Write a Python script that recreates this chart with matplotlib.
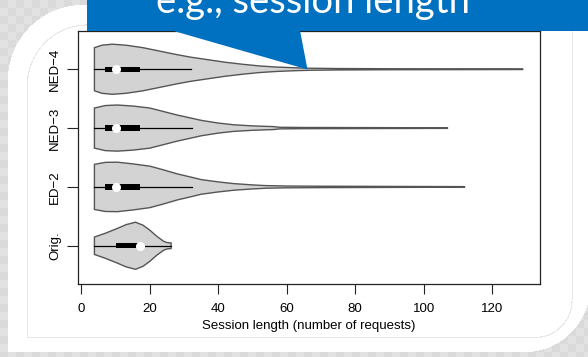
import numpy as np
import matplotlib
matplotlib.use("Agg")
import matplotlib.pyplot as plt
from matplotlib.patches import Rectangle, Polygon

# ---------------- data ----------------
groups = ["Orig.", "ED\u22122", "NED\u22123", "NED\u22124"]
positions = [1, 2, 3, 4]

# violin outline knots: session length value and half-width (pixels, group spacing = 58.7 px)
orig_x = [3.8, 7, 10.5, 13, 15.8, 18, 20, 22, 24, 25, 26.2]
orig_w = [8.7, 12.5, 17.3, 21, 23.5, 20.5, 15.5, 9.5, 4.5, 3.2, 2.8]

ed2_x = [3.8, 7, 10.5, 15, 20, 24, 28, 32, 35, 40, 44.5, 50, 54, 60, 70, 90, 112]
ed2_w = [22.5, 24.5, 24.7, 23, 20.7, 17, 13, 9.8, 7.3, 5, 3.3, 2, 1.3, 0.9, 0.7, 0.5, 0.3]

ned3_x = [3.8, 7, 10.5, 15, 20, 24, 28, 32, 35, 40, 44.5, 50, 54, 56, 58, 65, 80, 107]
ned3_w = [20, 22.5, 23, 22, 20, 16.5, 13, 10, 7.7, 5, 3.3, 2.2, 1.7, 1.5, 0.8, 0.6, 0.5, 0.3]

ned4_x = [3.8, 6, 9, 13, 18, 23, 28, 32, 37, 42, 47, 52, 57, 62, 67, 75, 90, 110, 129]
ned4_w = [21.5, 24, 25, 24, 21.5, 18, 14.5, 12, 9.5, 7, 5, 3.3, 2.2, 1.5, 1.0, 0.7, 0.5, 0.4, 0.3]

violin_x = [orig_x, ed2_x, ned3_x, ned4_x]
violin_w = [orig_w, ed2_w, ned3_w, ned4_w]

q1 = [10, 7, 7, 7]
median = [17, 10, 10, 10]
q3 = [17, 17.2, 17.2, 17.2]
whisk_lo = [3.8, 3.8, 3.8, 3.8]
whisk_hi = [26.2, 32.3, 32.3, 32.1]

xticks = [0, 20, 40, 60, 80, 100, 120]
xlabel = "Session length (number of requests)"
callout = "e.g., session length"

# ---------------- figure ----------------
W, H = 588, 357
fig = plt.figure(figsize=(W / 100, H / 100), dpi=100)
fig.patch.set_facecolor("white")

# background: slide card on a light checkered backdrop, placed pixel for pixel
yy, xx = np.mgrid[0:H, 0:W] + 0.5
checker = ((xx // 8 + yy // 8) % 2).astype(float)
shade = 0.855 + 0.035 * checker
outside = (xx < 8) | (yy < 5) | (yy > 352)
outside |= (xx < 83) & (yy < 80) & ((xx - 83) ** 2 + (yy - 80) ** 2 > 75 ** 2)
outside |= (xx > 525) & (yy > 287) & ((xx - 525) ** 2 + (yy - 287) ** 2 > 65 ** 2)
gray = np.where(outside, shade, 1.0)
frame = np.zeros_like(gray, dtype=bool)
frame |= (np.abs(xx - 27.5) < 0.6) & (yy > 85) & (yy < 337)
frame |= (np.abs(xx - 572.5) < 0.6) & (yy > 22) & (yy < 300)
frame |= (np.abs(yy - 337.5) < 0.6) & (xx > 27) & (xx < 535)
d1 = np.hypot(xx - 87.5, yy - 85)
frame |= (xx < 87.5) & (yy < 85) & (np.abs(d1 - 60) < 0.6)
d2 = np.hypot(xx - 535, yy - 300.5)
frame |= (xx > 535) & (yy > 300.5) & (np.abs(d2 - 37) < 0.6)
gray = np.where(frame & ~outside, 0.91, gray)
rgb = np.dstack([gray, gray, gray])
fig.figimage(rgb, xo=0, yo=0, origin="upper", zorder=0)

# ---------------- main chart ----------------
plt.rcParams["font.family"] = ["Liberation Sans", "DejaVu Sans"]
ax = fig.add_axes([78 / W, 1 - 284 / H, (540 - 78) / W, (284 - 31) / H], zorder=2)
ax.set_facecolor("white")
px_per_unit = 58.7

for pos, xs, ws, a, m, b, lo, hi in zip(positions, violin_x, violin_w, q1, median, q3,
                                        whisk_lo, whisk_hi):
    xs = np.asarray(xs, float)
    ws = np.asarray(ws, float) / px_per_unit
    ax.fill(np.r_[xs, xs[::-1]], np.r_[pos + ws, (pos - ws)[::-1]],
            facecolor="#d3d3d3", edgecolor="#555555", lw=1.0, zorder=2)
    ax.plot([lo, hi], [pos, pos], color="black", lw=0.9, zorder=3)
    ax.add_patch(Rectangle((a, pos - 0.045), b - a, 0.09, facecolor="black",
                           edgecolor="none", zorder=4))
    ax.plot([m], [pos], "o", color="white", ms=5.5, mec="white", zorder=5)

ax.set_xlim(-1, 134)
ax.set_ylim(0.35, 4.65)
ax.set_xticks(xticks)
ax.set_xticklabels([str(t) for t in xticks])
ax.set_yticks(positions)
ax.set_yticklabels(groups, rotation=90, va="center")
ax.tick_params(axis="x", length=7, width=0.8, labelsize=9.5, pad=7, color="#222222")
ax.tick_params(axis="y", length=8, width=0.8, labelsize=9.5, pad=4, color="#222222")
ax.set_xlabel(xlabel, fontsize=9.5, labelpad=3)
for s in ax.spines.values():
    s.set_linewidth(0.9)
    s.set_color("#222222")

# ---------------- callout ----------------
top = fig.add_axes([0, 0, 1, 1], zorder=5, label="callout")
top.axis("off")
blue = "#0070C0"
top.add_patch(Rectangle((87, -5), 600, 36, facecolor=blue, edgecolor="none"))
top.add_patch(Polygon([[172, 30.5], [300, 30.5], [307.5, 69.5]], closed=True,
                      facecolor=blue, edgecolor="none"))
top.text(313, 13, callout, ha="center", va="baseline", color="white",
         fontsize=27.5, family=["Lato", "DejaVu Sans"])
top.set_xlim(0, W)
top.set_ylim(H, 0)

fig.savefig("out.png", dpi=100)
